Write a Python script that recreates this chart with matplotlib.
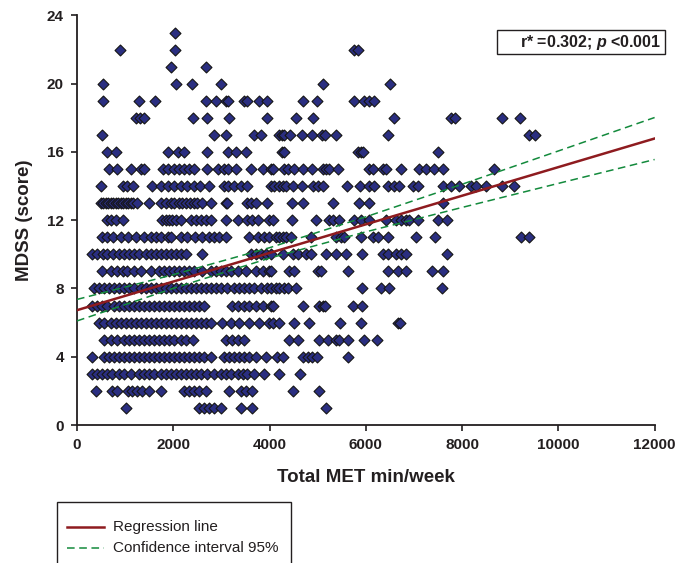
import numpy as np
import matplotlib.pyplot as plt
from matplotlib.patches import Rectangle
from matplotlib.lines import Line2D

plt.rcParams['font.family'] = ['Liberation Sans', 'DejaVu Sans']
plt.rcParams['mathtext.fontset'] = 'custom'
plt.rcParams['mathtext.it'] = 'Liberation Sans:italic:bold'

# MET min/week values, one list per MDSS score
met_s1 = [1010, 2540, 2640, 2745, 2850, 2990, 3400, 3645, 5170]
met_s2 = [390, 735, 840, 1050, 1150, 1255, 1360, 1500, 1740, 2225, 2330, 2435, 2535, 2675,
          3160, 3400, 3505, 3645, 4495, 5020]
met_s3 = [320, 425, 525, 630, 735, 875, 975, 1115, 1290, 1395, 1500, 1600, 1740, 1845, 1950,
          2050, 2155, 2260, 2365, 2465, 2570, 2710, 2850, 2985, 3090, 3195, 3335, 3440, 3540,
          3680, 3890, 4200, 4630]
met_s4 = [320, 560, 665, 770, 875, 975, 1080, 1185, 1290, 1395, 1495, 1600, 1705, 1810, 1915,
          2015, 2120, 2225, 2330, 2435, 2535, 2640, 2780, 3055, 3160, 3265, 3370, 3470, 3575,
          3715, 3925, 4165, 4270, 4685, 4790, 4880, 4980, 5625]
met_s5 = [560, 700, 840, 975, 1080, 1185, 1290, 1395, 1495, 1600, 1705, 1810, 1915, 2015, 2155,
          2260, 2400, 3090, 3230, 3335, 3470, 4410, 4585, 5020, 5205, 5380, 5450, 5625, 5970, 6225]
met_s6 = [455, 560, 700, 805, 910, 1010, 1115, 1220, 1325, 1430, 1530, 1635, 1740, 1845, 1950,
          2050, 2155, 2260, 2365, 2465, 2570, 2675, 2780, 3020, 3195, 3370, 3575, 3785, 3990,
          4065, 4190, 4515, 4825, 5465, 5900, 6660, 6710]
met_s7 = [320, 425, 525, 630, 770, 875, 975, 1080, 1185, 1290, 1395, 1495, 1600, 1705, 1810,
          1915, 2015, 2120, 2225, 2330, 2435, 2535, 2640, 3230, 3335, 3470, 3575, 3715, 3855,
          4025, 4075, 4685, 5035, 5105, 5160, 5725, 5920]
met_s8 = [355, 455, 560, 665, 770, 875, 975, 1080, 1185, 1325, 1430, 1530, 1635, 1740, 1845,
          1950, 2050, 2155, 2260, 2365, 2465, 2570, 2675, 2780, 2885, 2985, 3125, 3265, 3370,
          3470, 3575, 3680, 3820, 3955, 4030, 4135, 4200, 4305, 4375, 4550, 5920, 6315, 6475, 7585]
met_s9 = [525, 700, 825, 945, 1045, 1185, 1325, 1530, 1705, 1810, 1915, 2015, 2120, 2225, 2330,
          2435, 2605, 2780, 2885, 2985, 3090, 3195, 3335, 3505, 3715, 3855, 3990, 4030, 4410,
          4515, 5000, 5070, 5625, 6455, 6660, 6835, 7375, 7600]
met_s10 = [320, 425, 550, 630, 755, 875, 975, 1080, 1185, 1290, 1430, 1530, 1635, 1740, 1845,
           1950, 2050, 2155, 2260, 2605, 3610, 3715, 3820, 3925, 4025, 4270, 4480, 4585, 4755,
           4860, 5170, 5380, 5590, 5920, 6350, 6455, 6630, 6730, 6835, 7680]
met_s11 = [525, 630, 755, 910, 1060, 1220, 1395, 1530, 1635, 1755, 1880, 1950, 2155, 2295, 2445,
           2605, 2745, 2850, 2955, 3090, 3575, 3750, 3890, 3990, 4135, 4200, 4270, 4340, 4445,
           4860, 5380, 5485, 5555, 5900, 6145, 6245, 6455, 7045, 7445, 9230, 9400]
met_s12 = [630, 715, 805, 965, 1775, 1845, 1915, 1980, 2050, 2155, 2365, 2465, 2570, 2675, 2780,
           3090, 3335, 3540, 3645, 3750, 3990, 4065, 4465, 4965, 5240, 5310, 5450, 5760, 5900,
           6075, 6420, 6630, 6730, 6835, 6905, 7080, 7495, 7680]
met_s13 = [490, 550, 595, 645, 700, 755, 805, 855, 910, 965, 1010, 1060, 1115, 1170, 1255, 1495,
           1755, 1845, 1950, 2015, 2120, 2190, 2260, 2350, 2435, 2500, 2605, 2780, 3090, 3125,
           3530, 3610, 3715, 3955, 4465, 4685, 5325, 5850, 6075, 7600]
met_s14 = [490, 945, 1045, 1170, 1565, 1755, 1880, 2015, 2155, 2295, 2435, 2560, 2745, 3055, 3140,
           3265, 3405, 3540, 4025, 4100, 4200, 4270, 4340, 4495, 4675, 4895, 5000, 5105, 5600,
           5880, 6060, 6175, 6455, 6595, 6695, 6990, 7080, 7610, 7770, 7945, 8190, 8280, 8500,
           8835, 9070]
met_s15 = [665, 840, 1130, 1325, 1395, 1795, 1890, 2015, 2120, 2225, 2330, 2435, 2710, 2930, 3055,
           3140, 3300, 3610, 3855, 4025, 4075, 4305, 4375, 4515, 4685, 4880, 5105, 5170, 5240,
           5415, 6060, 6155, 6350, 6420, 6730, 7115, 7250, 7425, 7600, 8660]
met_s16 = [630, 820, 1900, 2100, 2225, 2710, 3140, 3300, 3505, 4255, 4305, 5830, 5900, 5950, 7510]
met_s17 = [525, 2850, 3090, 3680, 3820, 4200, 4255, 4305, 4425, 4675, 4880, 5090, 5160, 5380,
           6455, 9400, 9525]
met_s18 = [1220, 1305, 1395, 2420, 2695, 3160, 3945, 4550, 4910, 6595, 7760, 7860, 8835, 9195]
met_s19 = [530, 1290, 1620, 2675, 2885, 3090, 3140, 3470, 3530, 3785, 3945, 4690, 4985, 5760,
           5970, 6075, 6180]
met_s20 = [530, 2065, 2380, 2990, 5120, 6500]
met_s21 = [1950, 2675]
met_s22 = [890, 2040, 5760, 5830]
met_s23 = [2040]

rows = [met_s1, met_s2, met_s3, met_s4, met_s5, met_s6, met_s7, met_s8, met_s9, met_s10,
        met_s11, met_s12, met_s13, met_s14, met_s15, met_s16, met_s17, met_s18, met_s19,
        met_s20, met_s21, met_s22, met_s23]

# regression line and 95% confidence band
line_x = [0, 12000]
line_y = [6.73, 16.79]
ci_x = [0, 2000, 4000, 6000, 8000, 10000, 12000]
ci_upper = [7.36, 8.81, 10.39, 12.20, 14.11, 16.06, 18.02]
ci_lower = [6.10, 8.01, 9.78, 11.32, 12.75, 14.16, 15.56]

x_all = []
y_all = []
for score, vals in enumerate(rows, start=1):
    x_all += vals
    y_all += [score] * len(vals)

txt = '#231f20'
fig = plt.figure(figsize=(6.75, 5.63), dpi=100)
ax = fig.add_axes([0.1141, 0.2451, 0.8557, 0.7274])

ax.scatter(x_all, y_all, marker='D', s=31, facecolor='#2a2e80', edgecolor='#151515',
           linewidths=0.8, zorder=2, clip_on=False)
ax.plot(line_x, line_y, color='#8e1b1f', lw=1.8, zorder=3)
ax.plot(ci_x, ci_upper, color='#138a3c', lw=1.1, dashes=(5, 3), zorder=3)
ax.plot(ci_x, ci_lower, color='#138a3c', lw=1.1, dashes=(5, 3), zorder=3)

ax.set_xlim(0, 12000)
ax.set_ylim(0, 24)
ax.set_xticks(range(0, 12001, 2000))
ax.set_yticks(range(0, 25, 4))
for s in ['top', 'right']:
    ax.spines[s].set_visible(False)
for s in ['left', 'bottom']:
    ax.spines[s].set_color(txt)
    ax.spines[s].set_linewidth(1.3)
ax.tick_params(direction='out', length=4.5, width=1.2, color=txt, labelcolor=txt, labelsize=11)
ax.tick_params(axis='x', pad=5)
ax.tick_params(axis='y', pad=5)
for lab in ax.get_xticklabels() + ax.get_yticklabels():
    lab.set_fontweight('bold')

ax.set_xlabel('Total MET min/week', fontsize=13.5, fontweight='bold', color=txt, labelpad=12)
ax.set_ylabel('MDSS (score)', fontsize=13.5, fontweight='bold', color=txt, labelpad=10)

# r / p box
fig.add_artist(Rectangle((497 / 675, 1 - 54.3 / 563), 168 / 675, 24.3 / 563,
                         transform=fig.transFigure, fill=False, ec=txt, lw=1.0))
fig.text(661 / 675, 1 - 42.5 / 563, r'r* =0.302; $p$ <0.001', ha='right', va='center',
         fontsize=11.5, fontweight='bold', color=txt)

# legend box (cut off at the bottom, like the original)
fig.add_artist(Rectangle((57 / 675, -0.05), 234 / 675, 0.05 + 61 / 563,
                         transform=fig.transFigure, fill=False, ec=txt, lw=1.0))
fig.add_artist(Line2D([67 / 675, 104 / 675], [1 - 527 / 563] * 2, transform=fig.transFigure,
                      color='#8e1b1f', lw=1.8))
fig.add_artist(Line2D([67 / 675, 104 / 675], [1 - 548 / 563] * 2, transform=fig.transFigure,
                      color='#138a3c', lw=1.1, dashes=(5, 3)))
fig.text(113 / 675, 1 - 527 / 563, 'Regression line', ha='left', va='center',
         fontsize=11, color=txt)
fig.text(113 / 675, 1 - 548 / 563, 'Confidence interval 95%', ha='left', va='center',
         fontsize=11, color=txt)

fig.savefig('out.png', dpi=100)
